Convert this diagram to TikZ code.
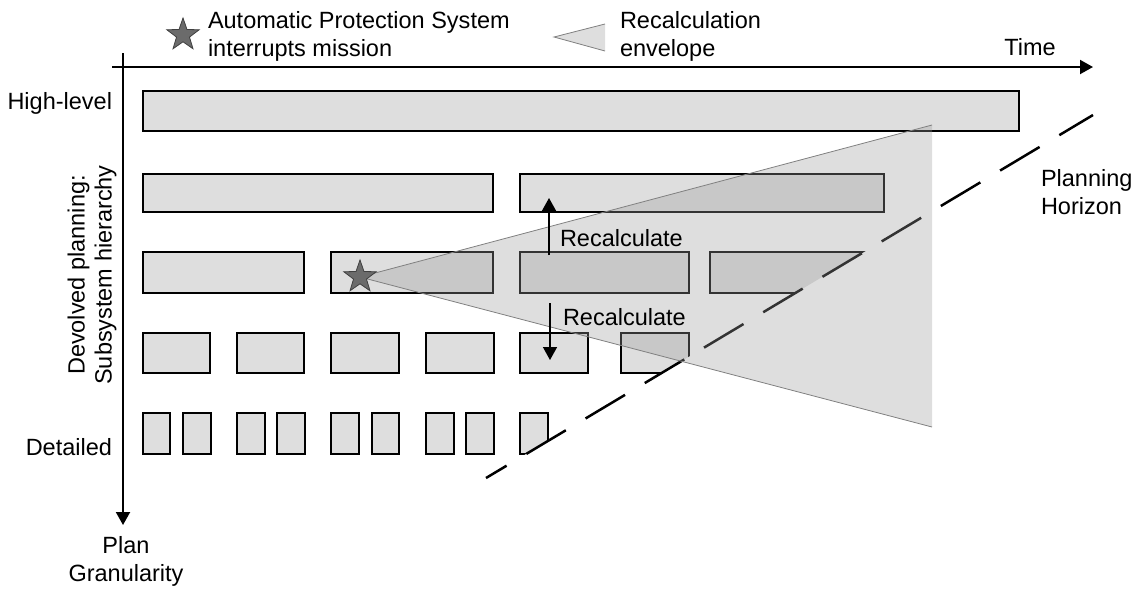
\documentclass[tikz,border=0pt]{standalone}
\usepackage{fontspec}
\setmainfont{Liberation Sans}
\usetikzlibrary{shapes.geometric,arrows.meta,fit}

\definecolor{boxgray}{HTML}{DEDEDE}
\definecolor{envgray}{HTML}{9C9C9C}
\definecolor{envline}{HTML}{808080}
\definecolor{stargray}{HTML}{6B6B6B}
\definecolor{starline}{HTML}{404040}

% one plan segment: name, x1, y1, x2, y2
\newcommand\planbox[5]{\node[plbox, fit={(#2,#3) (#4,#5)}] (#1) {};}

\begin{document}
\begin{tikzpicture}[x=0.5pt,y=-0.5pt,
  every node/.style={font=\fontsize{11.75pt}{14pt}\selectfont, inner sep=0pt, outer sep=0pt},
  plbox/.style={rectangle, draw=black, fill=boxgray, line width=0.75pt, inner sep=0pt, outer sep=0pt},
  axis/.style={line width=1pt, -{Triangle[length=6.5pt,width=7pt]}},
  recalc/.style={line width=0.75pt, -{Triangle[length=6.5pt,width=7pt]}},
  horizon/.style={line width=1.25pt, dash pattern=on 23pt off 11.5pt, dash phase=11pt},
  envelope/.style={fill=envgray, fill opacity=0.33},
  envedge/.style={draw=envline, line width=0.4pt},
  aps/.style={star, star points=5, star point ratio=2.5, minimum size=17pt,
              fill=stargray, draw=starline, line width=0.4pt, inner sep=0pt}
]
\useasboundingbox (0,0) rectangle (1139,590);

% ---- plan segments, cut off beyond the planning horizon ----
\begin{scope}
  \clip (0,-30) -- (1336,-30) -- (243,623) -- (0,623) -- cycle;
  % high level
  \planbox{h1}{143}{91}{1019}{131}
  % level 2
  \planbox{m1}{143}{174}{493}{212}
  \planbox{m2}{520}{174}{884}{212}
  % level 3
  \planbox{s1}{143}{252}{304}{293}
  \planbox{s2}{331}{252}{493}{293}
  \planbox{s3}{520}{252}{689}{293}
  \planbox{s4}{710}{252}{880}{293}
  % level 4
  \planbox{t1}{143}{333}{210}{373}
  \planbox{t2}{237}{333}{304}{373}
  \planbox{t3}{331}{333}{399}{373}
  \planbox{t4}{426}{333}{494}{373}
  \planbox{t5}{520}{333}{588}{373}
  \planbox{t6}{621}{333}{689}{373}
  % detailed
  \planbox{d1}{143}{413}{170}{454}
  \planbox{d2}{183}{413}{211}{454}
  \planbox{d3}{237}{413}{265}{454}
  \planbox{d4}{277}{413}{305}{454}
  \planbox{d5}{331}{413}{359}{454}
  \planbox{d6}{372}{413}{399}{454}
  \planbox{d7}{426}{413}{454}{454}
  \planbox{d8}{466}{413}{494}{454}
  \planbox{d9}{520}{413}{548}{454}
\end{scope}

% ---- planning horizon ----
\coordinate (hzlow) at (486,478);
\coordinate (hzhigh) at (1093,115);
\draw[horizon] (hzlow) -- (hzhigh);
\node[anchor=west, align=left] (hzlabel) at (1041,192) {Planning\\Horizon};

% ---- recalculation envelope from the interruption point ----
\coordinate (apspt) at (360,277);
\coordinate (envtop) at (932,125);
\coordinate (envbot) at (932,427);
\fill[envelope] (apspt) -- (envtop) -- (envbot) -- cycle;
\draw[envedge] (envtop) -- (apspt) -- (envbot);
\node[aps] (apsstar) at (apspt) {};

% ---- recalculation arrows ----
\coordinate (upfrom) at (549,255);
\coordinate (upto) at (549,198);
\coordinate (dnfrom) at (550,303);
\coordinate (dnto) at (550,360);
\draw[recalc] (upfrom) -- (upto);
\draw[recalc] (dnfrom) -- (dnto);
\node[anchor=west] (rcup) at (560,238) {Recalculate};
\node[anchor=west] (rcdn) at (563,317) {Recalculate};

% ---- axes ----
\coordinate (tstart) at (112,67);
\coordinate (tend) at (1093,67);
\coordinate (gstart) at (123,53);
\coordinate (gend) at (123,525);
\draw[axis] (tstart) -- (tend);
\draw[axis] (gstart) -- (gend);
\node (timelabel) at (1030,47) {Time};
\node[align=center] (granlabel) at (126,561) {Plan\\Granularity};
\node[anchor=east] (hilabel) at (112,103) {High-level};
\node[anchor=east] (detlabel) at (112,447) {Detailed};
\node[rotate=90, align=center, font=\fontsize{11.75pt}{13.5pt}\selectfont] (devlabel) at (92,275)
  {Devolved planning:\\Subsystem hierarchy};

% ---- legend ----
\node[aps] (legstar) at (183,35) {};
\node[anchor=west, align=left] (legstartext) at (208,36)
  {Automatic Protection System\\interrupts mission};
\coordinate (legapex) at (554,37);
\coordinate (legtop) at (605,24);
\coordinate (legbot) at (605,51);
\fill[boxgray] (legapex) -- (legtop) -- (legbot) -- cycle;
\draw[envedge] (legtop) -- (legapex) -- (legbot);
\node[anchor=west, align=left] (legenvtext) at (620,36)
  {Recalculation\\envelope};
\end{tikzpicture}
\end{document}
